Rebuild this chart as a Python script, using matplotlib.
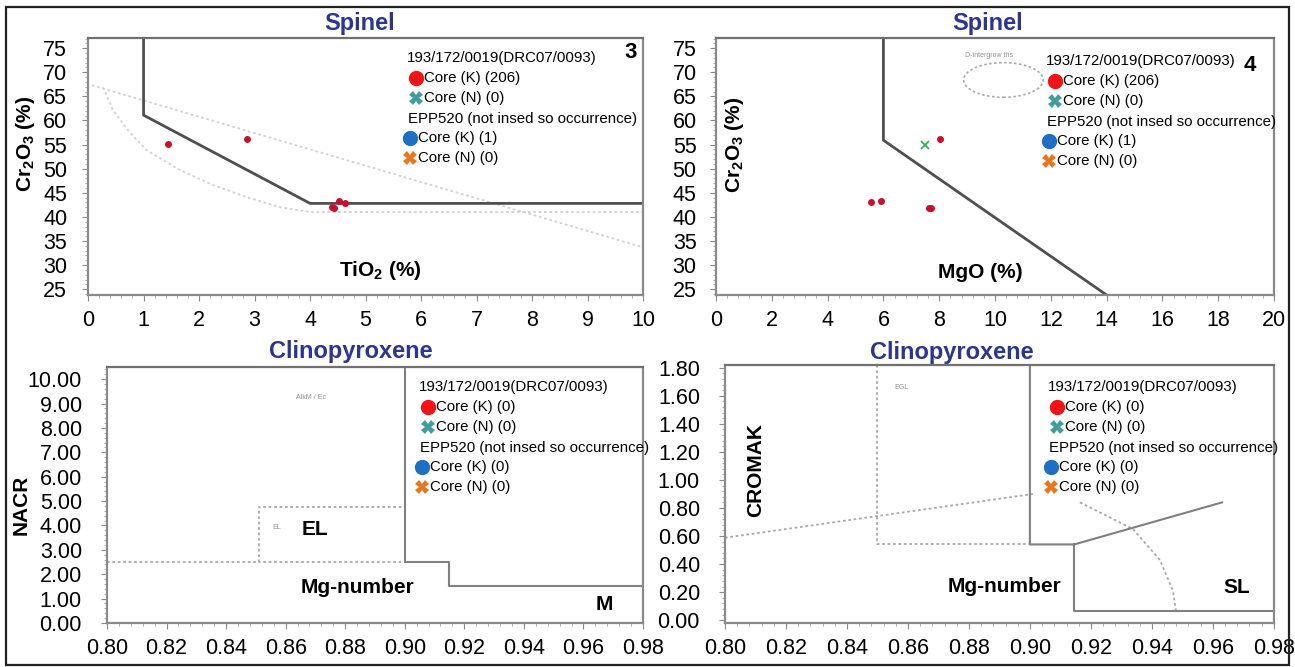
import numpy as np
import matplotlib
matplotlib.use("Agg")
import matplotlib.pyplot as plt
import matplotlib.transforms as mtransforms
from matplotlib.patches import Ellipse, Rectangle
from matplotlib.ticker import AutoMinorLocator

# ---------------- data ----------------
# Panel 3: Spinel TiO2 vs Cr2O3
tio2_ticks = [0, 1, 2, 3, 4, 5, 6, 7, 8, 9, 10]
cr_ticks = [25, 30, 35, 40, 45, 50, 55, 60, 65, 70, 75]
p3_core_k_x = [1.44, 2.86, 4.40, 4.43, 4.53, 4.63]
p3_core_k_y = [55.1, 56.1, 42.0, 41.8, 43.3, 42.8]
p3_bound_x = [1.0, 1.0, 4.0, 10.0]
p3_bound_y = [77.1, 61.1, 42.8, 42.8]
p3_line_x = [0.07, 10.0]
p3_line_y = [67.3, 33.7]
p3_curve_x = [0.27, 0.45, 0.76, 1.06, 1.66, 2.25, 2.86, 3.46, 4.0, 10.0]
p3_curve_y = [66.9, 62.1, 57.4, 53.8, 49.7, 46.6, 44.1, 42.0, 41.0, 41.0]

# Panel 4: Spinel MgO vs Cr2O3
mgo_ticks = [0, 2, 4, 6, 8, 10, 12, 14, 16, 18, 20]
p4_core_k_x = [5.56, 5.91, 7.63, 7.70, 8.03]
p4_core_k_y = [43.0, 43.3, 41.8, 41.9, 56.1]
p4_core_n_x = [7.49]
p4_core_n_y = [54.9]
p4_bound_x = [6.0, 6.0, 14.0]
p4_bound_y = [77.1, 55.9, 23.8]

# Panel Clinopyroxene NACR
mg_ticks = [0.80, 0.82, 0.84, 0.86, 0.88, 0.90, 0.92, 0.94, 0.96, 0.98]
mg_labels = ["0.80", "0.82", "0.84", "0.86", "0.88", "0.90", "0.92", "0.94", "0.96", "0.98"]
nacr_ticks = [0, 1, 2, 3, 4, 5, 6, 7, 8, 9, 10]
nacr_labels = ["0.00", "1.00", "2.00", "3.00", "4.00", "5.00", "6.00", "7.00", "8.00", "9.00", "10.00"]
nacr_solid_x = [0.900, 0.900, 0.915, 0.915, 0.980]
nacr_solid_y = [10.5, 2.5, 2.5, 1.5, 1.5]
nacr_dot_x = [0.800, 0.851, 0.851, 0.900, 0.900, 0.851, 0.851]
nacr_dot_y = [2.5, 2.5, 4.75, 4.75, 2.5, 2.5, 2.5]

# Panel Clinopyroxene CROMAK
crom_ticks = [0, 0.2, 0.4, 0.6, 0.8, 1.0, 1.2, 1.4, 1.6, 1.8]
crom_labels = ["0.00", "0.20", "0.40", "0.60", "0.80", "1.00", "1.20", "1.40", "1.60", "1.80"]
crom_solid_x = [0.900, 0.900, 0.9145, 0.963]
crom_solid_y = [1.82, 0.54, 0.54, 0.84]
crom_solid2_x = [0.9145, 0.9145, 0.980]
crom_solid2_y = [0.54, 0.064, 0.064]
crom_dot_box_x = [0.850, 0.850, 0.900]
crom_dot_box_y = [1.82, 0.54, 0.54]
crom_dot_line_x = [0.800, 0.901]
crom_dot_line_y = [0.588, 0.90]
crom_curve_x = [0.9164, 0.9338, 0.9426, 0.9469, 0.948]
crom_curve_y = [0.84, 0.65, 0.43, 0.21, 0.05]

# Legend contents
leg_head1 = "193/172/0019(DRC07/0093)"
leg_head2 = "EPP520 (not insed so occurrence)"
leg_spinel = ["Core (K) (206)", "Core (N) (0)", "Core (K) (1)", "Core (N) (0)"]
leg_cpx = ["Core (K) (0)", "Core (N) (0)", "Core (K) (0)", "Core (N) (0)"]

RED = "#F01418"
TEAL = "#3E9E9C"
BLUE = "#1C6FC2"
ORANGE = "#E8761F"
NAVY = "#2C368E"
PT_RED = "#C8102E"

plt.rcParams["font.family"] = ["Liberation Sans", "DejaVu Sans"]
plt.rcParams["mathtext.fontset"] = "custom"
plt.rcParams["mathtext.rm"] = "Liberation Sans"
plt.rcParams["mathtext.bf"] = "Liberation Sans:bold"
plt.rcParams["mathtext.it"] = "Liberation Sans:italic"

fig = plt.figure(figsize=(12.95, 6.67), dpi=100)

ax3 = fig.add_axes([0.0680, 0.5577, 0.4286, 0.3853])
ax4 = fig.add_axes([0.5529, 0.5577, 0.4309, 0.3853])
axn = fig.add_axes([0.0826, 0.0660, 0.4139, 0.3838])
axc = fig.add_axes([0.5598, 0.0660, 0.4239, 0.3868])

SPINE = "#8a8a8a"


def style(ax, xticks, yticks, xlabels=None, ylabels=None, xpad=7, ypad=11):
    for s in ax.spines.values():
        s.set_color(SPINE)
        s.set_linewidth(1.6)
    ax.spines["top"].set_color("#707070")
    ax.set_xticks(xticks)
    ax.set_yticks(yticks)
    if xlabels is not None:
        ax.set_xticklabels(xlabels)
    if ylabels is not None:
        ax.set_yticklabels(ylabels)
    ax.xaxis.set_minor_locator(AutoMinorLocator(5))
    ax.yaxis.set_minor_locator(AutoMinorLocator(5))
    ax.tick_params(axis="x", which="major", labelsize=15.5, pad=xpad, length=4, color=SPINE, direction="out")
    ax.tick_params(axis="y", which="major", labelsize=15.5, pad=ypad, length=4, color=SPINE, direction="out")
    ax.tick_params(which="minor", length=2.5, color="#a0a0a0", direction="out")


def legend(ax, x0, y0, labels):
    def tr(dx, dy):
        return ax.transAxes + mtransforms.ScaledTranslation(dx / 100.0, -dy / 100.0, fig.dpi_scale_trans)
    fs = 10.8
    ax.text(x0, y0, leg_head1, fontsize=fs, ha="left", va="center", transform=tr(0, 0))
    ax.plot([x0], [y0], marker="o", ms=10, color=RED, transform=tr(9, 20), clip_on=False)
    ax.text(x0, y0, labels[0], fontsize=fs, ha="left", va="center", transform=tr(17, 20))
    ax.plot([x0], [y0], marker="X", ms=9.5, color=TEAL, mew=0, transform=tr(9, 40), clip_on=False)
    ax.text(x0, y0, labels[1], fontsize=fs, ha="left", va="center", transform=tr(17, 40))
    ax.text(x0, y0, leg_head2, fontsize=fs, ha="left", va="center", transform=tr(1, 61))
    ax.plot([x0], [y0], marker="o", ms=10, color=BLUE, transform=tr(3, 80), clip_on=False)
    ax.text(x0, y0, labels[2], fontsize=fs, ha="left", va="center", transform=tr(11, 80))
    ax.plot([x0], [y0], marker="X", ms=9.5, color=ORANGE, mew=0, transform=tr(3, 100), clip_on=False)
    ax.text(x0, y0, labels[3], fontsize=fs, ha="left", va="center", transform=tr(11, 100))


def title(ax, x, y, s):
    ax.text(x, y, s, transform=ax.transAxes, ha="center", va="center",
            fontsize=17, fontweight="bold", color=NAVY)


cr_label = r"Cr$_\mathbf{2}$O$_\mathbf{3}$ (%)"
LIGHT = "#d2d2d2"
DARK = "#4f4f4f"

# ---------- Panel 3 ----------
ax = ax3
ax.set_xlim(0, 10)
ax.set_ylim(23.8, 77.1)
style(ax, tio2_ticks, cr_ticks, ypad=11)
ax.plot(p3_line_x, p3_line_y, color=LIGHT, lw=1.3, ls=(0, (1.5, 1.5)))
ax.plot(p3_curve_x, p3_curve_y, color=LIGHT, lw=1.3, ls=(0, (1.5, 1.5)))
ax.plot(p3_bound_x, p3_bound_y, color=DARK, lw=2)
ax.plot(p3_core_k_x, p3_core_k_y, "o", ms=4, color=PT_RED, mec=PT_RED)
ax.text(-0.1135, 0.59, cr_label, rotation=90, ha="center", va="center",
        transform=ax.transAxes, fontsize=15, fontweight="bold")
ax.text(0.526, 0.097, r"TiO$_\mathbf{2}$ (%)", ha="center", va="center",
        transform=ax.transAxes, fontsize=15, fontweight="bold")
ax.text(0.978, 0.945, "3", ha="center", va="center", transform=ax.transAxes,
        fontsize=16, fontweight="bold")
title(ax, 0.49, 1.058, "Spinel")
legend(ax, 0.575, 0.922, leg_spinel)

# ---------- Panel 4 ----------
ax = ax4
ax.set_xlim(0, 20)
ax.set_ylim(23.8, 77.1)
style(ax, mgo_ticks, cr_ticks, ypad=10)
ax.plot(p4_bound_x, p4_bound_y, color=DARK, lw=2)
ax.add_patch(Ellipse((10.3, 68.4), 2.85, 7.2, fill=False, ec="#a8a8a8", lw=1.2, ls=(0, (1.5, 1.5))))
ax.text(8.92, 73.5, "D-intergrow ths", fontsize=5, color="#909090", ha="left", va="center")
ax.plot(p4_core_k_x, p4_core_k_y, "o", ms=4, color=PT_RED, mec=PT_RED)
ax.plot(p4_core_n_x, p4_core_n_y, "x", ms=6, color="#3DAE5A", mew=1.3)
ax.text(0.034, 0.584, cr_label, rotation=90, ha="center", va="center",
        transform=ax.transAxes, fontsize=15, fontweight="bold")
ax.text(0.473, 0.086, "MgO (%)", ha="center", va="center",
        transform=ax.transAxes, fontsize=15, fontweight="bold")
ax.text(0.957, 0.895, "4", ha="center", va="center", transform=ax.transAxes,
        fontsize=16, fontweight="bold")
title(ax, 0.487, 1.058, "Spinel")
legend(ax, 0.591, 0.911, leg_spinel)

# ---------- Clinopyroxene NACR ----------
ax = axn
ax.set_xlim(0.80, 0.98)
ax.set_ylim(0, 10.5)
style(ax, mg_ticks, nacr_ticks, mg_labels, nacr_labels, ypad=14)
ax.plot(nacr_dot_x, nacr_dot_y, color="#a8a8a8", lw=1.3, ls=(0, (1.5, 1.5)))
ax.plot(nacr_solid_x, nacr_solid_y, color="#808080", lw=1.5)
ax.text(0.8685, 9.26, "AlkM / Ec", fontsize=5, color="#909090", ha="center", va="center")
ax.text(0.857, 3.93, "EL", fontsize=5, color="#909090", ha="center", va="center")
ax.text(0.870, 3.85, "EL", fontsize=15, fontweight="bold", ha="center", va="center")
ax.text(0.967, 0.74, "M", fontsize=15, fontweight="bold", ha="center", va="center")
ax.text(0.468, 0.14, "Mg-number", ha="center", va="center",
        transform=ax.transAxes, fontsize=15, fontweight="bold")
ax.text(-0.16, 0.46, "NACR", rotation=90, ha="center", va="center",
        transform=ax.transAxes, fontsize=15, fontweight="bold")
title(ax, 0.455, 1.059, "Clinopyroxene")
legend(ax, 0.582, 0.922, leg_cpx)

# ---------- Clinopyroxene CROMAK ----------
ax = axc
ax.set_xlim(0.80, 0.98)
ax.set_ylim(-0.02, 1.82)
style(ax, mg_ticks, crom_ticks, mg_labels, crom_labels, ypad=14)
ax.plot(crom_dot_line_x, crom_dot_line_y, color="#a8a8a8", lw=1.3, ls=(0, (1.5, 1.5)))
ax.plot(crom_dot_box_x, crom_dot_box_y, color="#a8a8a8", lw=1.3, ls=(0, (1.5, 1.5)))
ax.plot(crom_curve_x, crom_curve_y, color="#a8a8a8", lw=1.3, ls=(0, (1.5, 1.5)))
ax.plot(crom_solid_x, crom_solid_y, color="#808080", lw=1.5)
ax.plot(crom_solid2_x, crom_solid2_y, color="#808080", lw=1.5)
ax.text(0.858, 1.66, "EGL", fontsize=5, color="#909090", ha="center", va="center")
ax.text(0.968, 0.235, "SL", fontsize=15, fontweight="bold", ha="center", va="center")
ax.text(0.51, 0.14, "Mg-number", ha="center", va="center",
        transform=ax.transAxes, fontsize=15, fontweight="bold")
ax.text(0.056, 0.593, "CROMAK", rotation=90, ha="center", va="center",
        transform=ax.transAxes, fontsize=15, fontweight="bold")
title(ax, 0.413, 1.05, "Clinopyroxene")
legend(ax, 0.588, 0.915, leg_cpx)

# figure border
fig.patches.append(Rectangle((0.0046, 0.003), 0.9907, 0.9865, transform=fig.transFigure,
                             fill=False, ec="#222222", lw=1.6))

fig.savefig("out.png", dpi=100)
